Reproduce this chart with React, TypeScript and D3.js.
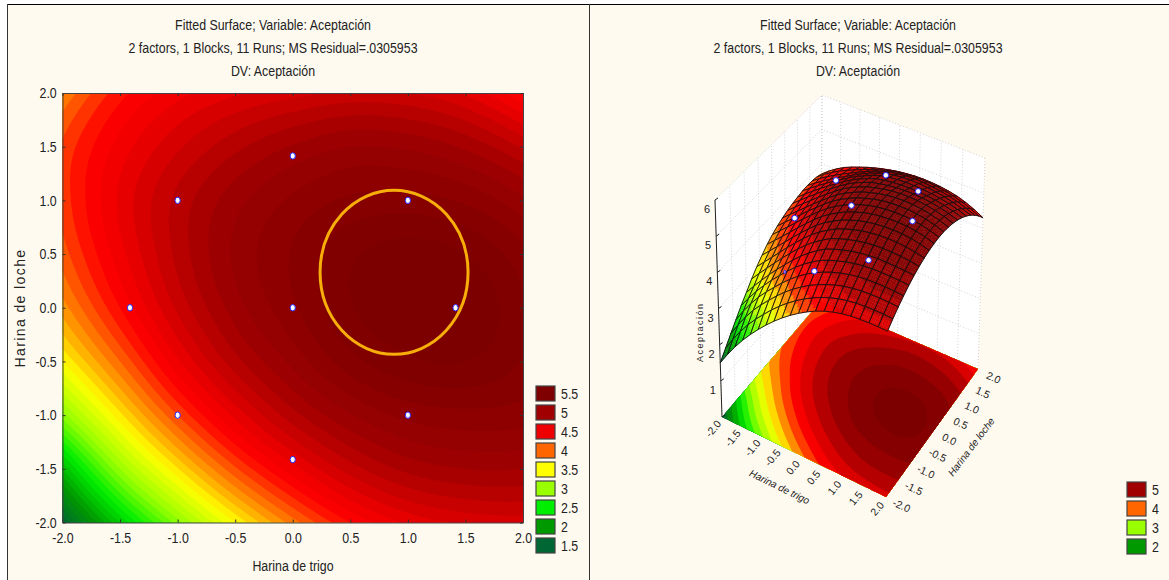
import React, { useEffect, useRef } from 'react';
import * as d3 from 'd3';

const WIDTH = 1169;
const HEIGHT = 580;
const FONT = '"Liberation Sans", Arial, sans-serif';
const NARROW = 0.825;

const titleLines = [
  'Fitted Surface; Variable: Aceptación',
  '2 factors, 1 Blocks, 11 Runs; MS Residual=.0305953',
  'DV: Aceptación',
];
const xTitle = 'Harina de trigo';
const yTitle = 'Harina de loche';
const zTitle = 'Aceptación';

const axisTicks = [-2, -1.5, -1, -0.5, 0, 0.5, 1, 1.5, 2];
const zTicks = [1, 2, 3, 4, 5, 6];

// surface, rows y=-2..2, columns x=-2..2 (step 0.5)
const surfaceRows = [
  [1.5, 2.3, 2.95, 3.5, 3.95, 4.3, 4.52, 4.62, 4.65],
  [2.2, 3.0, 3.59, 4.08, 4.46, 4.75, 4.93, 5.0, 5.0],
  [2.95, 3.57, 4.1, 4.53, 4.86, 5.09, 5.23, 5.27, 5.25],
  [3.5, 4.0, 4.48, 4.86, 5.13, 5.36, 5.48, 5.5, 5.39],
  [3.85, 4.3, 4.72, 5.05, 5.28, 5.49, 5.58, 5.57, 5.42],
  [4.05, 4.46, 4.83, 5.12, 5.31, 5.48, 5.55, 5.5, 5.33],
  [4.14, 4.52, 4.83, 5.06, 5.22, 5.32, 5.34, 5.28, 5.12],
  [4.12, 4.44, 4.68, 4.87, 5.01, 5.1, 5.08, 4.98, 4.78],
  [3.9, 4.26, 4.46, 4.58, 4.66, 4.72, 4.7, 4.58, 4.3],
];

// the mesh in the 3D panel sits lower on its left side than its colours say
const meshDropX = [1, 0.85, 0.6, 0.25, 0, 0, 0, 0, 0];
const meshDropY = [0, 0.12, 0.33, 0.4, 0.4, 0.4, 0.38, 0.33, 0.2];

const runX = [0, 1, 1, -1, -1, 0, 0, 1.414, -1.414];
const runY = [0, 1, -1, 1, -1, 1.414, -1.414, 0, 0];
const runZ = [5.25, 5.35, 5.1, 4.7, 3.7, 5.0, 4.6, 5.55, 4.2];
const runUnderMesh = [false, false, false, false, true, false, false, false, false];

const legendLevels = [5.5, 5, 4.5, 4, 3.5, 3, 2.5, 2, 1.5];
const legendColors = ['#7f0000', '#a00000', '#ee0000', '#ff6600', '#ffff00', '#99ff00', '#00ee00', '#009900', '#006633'];
const legend3dLevels = [5, 4, 3, 2];
const legend3dColors = ['#a00000', '#ff6600', '#99ff00', '#009900'];

const color = d3.scaleLinear<string>()
  .domain([1.3, 1.5, 2, 2.5, 3, 3.5, 4, 4.3, 4.5, 5, 5.5])
  .range(['#005c3a', '#006633', '#009900', '#00ee00', '#99ff00', '#ffff00', '#ff6600', '#ff0000', '#ee0000', '#a00000', '#7c0000'])
  .clamp(true);

const catmull = (a: number, b: number, c: number, d: number, t: number) =>
  b + 0.5 * t * (c - a + t * (2 * a - 5 * b + 4 * c - d + t * (3 * (b - c) + d - a)));

const pick = (arr: number[], i: number) => {
  const n = arr.length - 1;
  if (i < 0) return 3 * arr[0] - 3 * arr[1] + arr[2];
  if (i > n) return 3 * arr[n] - 3 * arr[n - 1] + arr[n - 2];
  return arr[i];
};

// smooth reading between the grid values
const surfaceAt = (x: number, y: number) => {
  const gx = (x + 2) / 0.5;
  const gy = (y + 2) / 0.5;
  const ix = Math.min(Math.floor(gx), 7);
  const iy = Math.min(Math.floor(gy), 7);
  const col = [-1, 0, 1, 2].map((k) => {
    const row = surfaceRows.map((r) => catmull(pick(r, ix - 1), pick(r, ix), pick(r, ix + 1), pick(r, ix + 2), gx - ix));
    return pick(row, iy + k);
  });
  return catmull(col[0], col[1], col[2], col[3], gy - iy);
};

const dropX = d3.scaleLinear<number>().domain(axisTicks).range(meshDropX);
const dropY = d3.scaleLinear<number>().domain(axisTicks).range(meshDropY);
const meshHeight = (x: number, y: number) => surfaceAt(x, y) - dropX(x) * dropY(y);

// 3D box corners on screen: -2,-2 / 2,-2 / 2,2 / -2,2
const floorQuad = [[722, 417], [886, 497], [978, 369], [821, 301]];
const topQuad = [[715, 200], [888, 283], [985, 158], [822, 95]];

const squareToQuad = (q: number[][]) => {
  const [[x0, y0], [x1, y1], [x2, y2], [x3, y3]] = q;
  const sx = x0 - x1 + x2 - x3;
  const sy = y0 - y1 + y2 - y3;
  const dx1 = x1 - x2;
  const dx2 = x3 - x2;
  const dy1 = y1 - y2;
  const dy2 = y3 - y2;
  const den = dx1 * dy2 - dx2 * dy1;
  const g = (sx * dy2 - dx2 * sy) / den;
  const h = (dx1 * sy - sx * dy1) / den;
  const a = x1 - x0 + g * x1;
  const b = x3 - x0 + h * x3;
  const d = y1 - y0 + g * y1;
  const e = y3 - y0 + h * y3;
  return (u: number, v: number) => {
    const w = g * u + h * v + 1;
    return [(a * u + b * v + x0) / w, (d * u + e * v + y0) / w];
  };
};

const floorMap = squareToQuad(floorQuad);
const topMap = squareToQuad(topQuad);

const project = (x: number, y: number, z: number) => {
  const u = (x + 2) / 4;
  const v = (y + 2) / 4;
  const f = floorMap(u, v);
  const t = topMap(u, v);
  const k = z / 6;
  return [f[0] + (t[0] - f[0]) * k, f[1] + (t[1] - f[1]) * k];
};

const SIZE = 161;
const field: number[] = [];
for (let j = 0; j < SIZE; j++) {
  for (let i = 0; i < SIZE; i++) {
    field.push(surfaceAt(-2 + (4 * i) / (SIZE - 1), -2 + (4 * j) / (SIZE - 1)));
  }
}

const gridToData = (c: number) => Math.max(-2, Math.min(2, -2 + (4 * (c - 0.5)) / (SIZE - 1)));

const App = () => {
  const svgRef = useRef<SVGSVGElement>(null);

  useEffect(() => {
    const svg = d3.select(svgRef.current);
    svg.selectAll('*').remove();

    svg.append('rect').attr('width', WIDTH).attr('height', HEIGHT).attr('fill', '#fff');
    svg.append('rect').attr('x', 7).attr('y', 4).attr('width', WIDTH - 7).attr('height', HEIGHT - 4).attr('fill', '#fffaf0');
    svg.append('line').attr('x1', 7).attr('x2', WIDTH).attr('y1', 4.5).attr('y2', 4.5).attr('stroke', '#000').attr('stroke-width', 1.2);
    svg.append('line').attr('x1', 7.5).attr('x2', 7.5).attr('y1', 4).attr('y2', HEIGHT).attr('stroke', '#333').attr('stroke-width', 1);
    svg.append('line').attr('x1', 589.5).attr('x2', 589.5).attr('y1', 4).attr('y2', HEIGHT).attr('stroke', '#333').attr('stroke-width', 1);

    // the original type is a condensed Arial, squeezed here
    const label = (x: number, y: number, text: any, anchor = 'middle') =>
      svg.append('text')
        .attr('transform', `translate(${x},${y}) scale(${NARROW},1)`)
        .attr('text-anchor', anchor)
        .attr('font-family', FONT)
        .attr('font-size', 15)
        .attr('fill', '#222')
        .text(text);

    const drawTitles = (cx: number) => {
      titleLines.forEach((line, i) => label(cx, 30 + i * 23, line));
    };
    drawTitles(273);
    drawTitles(858);

    const drawLegend = (x: number, y: number, levels: number[], colors: string[]) => {
      levels.forEach((level, i) => {
        svg.append('rect')
          .attr('x', x)
          .attr('y', y + i * 19)
          .attr('width', 19)
          .attr('height', 15)
          .attr('fill', colors[i])
          .attr('stroke', '#444')
          .attr('stroke-width', 1.2);
        label(x + 25, y + i * 19 + 13, level, 'start');
      });
    };
    drawLegend(536, 386, legendLevels, legendColors);
    drawLegend(1127, 482, legend3dLevels, legend3dColors);

    // left: contour map
    const xScale = d3.scaleLinear().domain([-2, 2]).range([62.5, 523]);
    const yScale = d3.scaleLinear().domain([-2, 2]).range([522.5, 93]);

    const contours2d = d3.contours().size([SIZE, SIZE]).thresholds(d3.range(1.0, 5.65, 0.1))(field);
    const path2d = d3.geoPath(d3.geoTransform({
      point(x: number, y: number) {
        this.stream.point(xScale(gridToData(x)), yScale(gridToData(y)));
      },
    }));
    svg.append('g')
      .selectAll('path')
      .data(contours2d)
      .enter()
      .append('path')
      .attr('d', path2d as any)
      .attr('fill', (d: any) => color(d.value + 0.05));

    const fmt = (d: any) => (+d).toFixed(1);
    const styleAxis = (g: any) => {
      g.attr('font-family', FONT).attr('font-size', 15);
      g.selectAll('text').attr('fill', '#222').attr('transform', `scale(${NARROW},1)`);
      g.selectAll('line').attr('stroke', '#333');
      g.select('.domain').attr('stroke', '#444');
    };
    svg.append('g').attr('transform', 'translate(0,522.5)')
      .call(d3.axisBottom(xScale).tickValues(axisTicks).tickFormat(fmt).tickSizeInner(-3).tickSizeOuter(0).tickPadding(10))
      .call(styleAxis);
    svg.append('g').attr('transform', 'translate(62.5,0)')
      .call(d3.axisLeft(yScale).tickValues(axisTicks).tickFormat(fmt).tickSizeInner(-3).tickSizeOuter(0).tickPadding(7))
      .call(styleAxis);
    svg.append('g').attr('transform', 'translate(0,93)')
      .call(d3.axisTop(xScale).tickValues(axisTicks).tickFormat(() => '').tickSizeInner(-3).tickSizeOuter(0))
      .call(styleAxis);
    svg.append('g').attr('transform', 'translate(523,0)')
      .call(d3.axisRight(yScale).tickValues(axisTicks).tickFormat(() => '').tickSizeInner(-3).tickSizeOuter(0))
      .call(styleAxis);

    label(293, 571, xTitle);
    svg.append('text')
      .attr('transform', 'translate(25,308) rotate(-90)')
      .attr('text-anchor', 'middle')
      .attr('font-family', FONT)
      .attr('font-size', 14)
      .attr('letter-spacing', 1.4)
      .attr('fill', '#222')
      .text(yTitle);

    svg.append('g')
      .selectAll('ellipse')
      .data(runX.map((x, i) => [x, runY[i]]))
      .enter()
      .append('ellipse')
      .attr('cx', (d) => xScale(d[0]))
      .attr('cy', (d) => yScale(d[1]))
      .attr('rx', 2.6)
      .attr('ry', 3.2)
      .attr('fill', '#fff')
      .attr('stroke', '#2020ff')
      .attr('stroke-width', 1);

    // hand-drawn ring around the optimum
    svg.append('ellipse')
      .attr('cx', xScale(0.88))
      .attr('cy', yScale(0.33))
      .attr('rx', 74)
      .attr('ry', 82)
      .attr('fill', 'none')
      .attr('stroke', '#f7ae0a')
      .attr('stroke-width', 3);

    // right: 3D box
    const line3d = d3.line();
    const wall = (a: number[], b: number[], c: number[], d: number[]) => 'M' + [a, b, c, d].map((p) => p.join(',')).join('L') + 'Z';
    svg.append('path').attr('d', wall(project(-2, -2, 0), project(-2, 2, 0), project(-2, 2, 6), project(-2, -2, 6))).attr('fill', '#fff');
    svg.append('path').attr('d', wall(project(-2, 2, 0), project(2, 2, 0), project(2, 2, 6), project(-2, 2, 6))).attr('fill', '#fff');

    const gridLines = svg.append('g').attr('fill', 'none').attr('stroke', '#c8c8c8').attr('stroke-width', 0.8).attr('stroke-dasharray', '1,2');
    const zGrid = [0, ...zTicks];
    zGrid.forEach((z) => {
      gridLines.append('path').attr('d', line3d([project(-2, -2, z), project(-2, 2, z), project(2, 2, z)]));
    });
    axisTicks.forEach((t) => {
      gridLines.append('path').attr('d', line3d([project(-2, t, 0), project(-2, t, 6)]));
      gridLines.append('path').attr('d', line3d([project(t, 2, 0), project(t, 2, 6)]));
    });

    const contours3d = d3.contours().size([SIZE, SIZE]).thresholds(d3.range(1.0, 5.65, 0.25))(field);
    const pathFloor = d3.geoPath(d3.geoTransform({
      point(x: number, y: number) {
        const p = project(gridToData(x), gridToData(y), 0);
        this.stream.point(p[0], p[1]);
      },
    }));
    svg.append('g')
      .selectAll('path')
      .data(contours3d)
      .enter()
      .append('path')
      .attr('d', pathFloor as any)
      .attr('fill', (d: any) => color(d.value + 0.125));

    // z axis
    const zAxis = svg.append('g').attr('fill', 'none').attr('stroke', '#222').attr('stroke-width', 1);
    zAxis.append('path').attr('d', line3d([project(-2, -2, 0), project(-2, -2, 6)]));
    zGrid.forEach((z) => {
      const p = project(-2, -2, z);
      zAxis.append('path').attr('d', line3d([p, [p[0] + 3, p[1] - 2]]));
    });
    zTicks.forEach((z) => {
      const p = project(-2, -2, z);
      svg.append('text')
        .attr('x', p[0] - 8)
        .attr('y', p[1] + 13)
        .attr('text-anchor', 'middle')
        .attr('font-family', FONT).attr('font-size', 11).attr('fill', '#222')
        .text(z);
    });
    svg.append('text')
      .attr('transform', 'translate(703,333) rotate(-90)')
      .attr('text-anchor', 'middle')
      .attr('font-family', FONT).attr('font-size', 9).attr('fill', '#222')
      .attr('textLength', 58)
      .text(zTitle);

    // surface, painted from the far corner forward
    const CELLS = 20;
    const SUB = 4;
    const cellSize = 4 / CELLS;
    const surf = svg.append('g');
    const quad = (x0: number, y0: number, x1: number, y1: number) =>
      'M' + [[x0, y0], [x1, y0], [x1, y1], [x0, y1]]
        .map(([a, b]) => project(a, b, meshHeight(a, b)).map((v) => v.toFixed(2)).join(','))
        .join('L') + 'Z';
    for (let i = 0; i < CELLS; i++) {
      const x0 = -2 + i * cellSize;
      for (let j = CELLS - 1; j >= 0; j--) {
        const y0 = -2 + j * cellSize;
        for (let a = 0; a < SUB; a++) {
          for (let b = 0; b < SUB; b++) {
            const sx = x0 + (a * cellSize) / SUB;
            const sy = y0 + (b * cellSize) / SUB;
            const v = surfaceAt(sx + cellSize / SUB / 2, sy + cellSize / SUB / 2);
            const c = color(Math.floor(v / 0.25) * 0.25 + 0.125);
            surf.append('path')
              .attr('d', quad(sx, sy, sx + cellSize / SUB, sy + cellSize / SUB))
              .attr('fill', c)
              .attr('stroke', c)
              .attr('stroke-width', 0.4);
          }
        }
        surf.append('path')
          .attr('d', quad(x0, y0, x0 + cellSize, y0 + cellSize))
          .attr('fill', 'none')
          .attr('stroke', '#111')
          .attr('stroke-width', 0.9);
      }
    }

    // design points on the 3D surface; the one under the mesh barely shows
    svg.append('g')
      .selectAll('ellipse')
      .data(runX.map((x, i) => ({ x, y: runY[i], z: runZ[i], under: runUnderMesh[i] })))
      .enter()
      .append('ellipse')
      .attr('cx', (d) => project(d.x, d.y, d.z)[0])
      .attr('cy', (d) => project(d.x, d.y, d.z)[1])
      .attr('rx', (d) => (d.under ? 1 : 2.8))
      .attr('ry', (d) => (d.under ? 1.6 : 2.8))
      .attr('fill', '#fff')
      .attr('stroke', '#2020ff')
      .attr('stroke-width', 1);

    // floor axis labels
    axisTicks.forEach((t) => {
      const p = project(t, -2, 0);
      svg.append('text')
        .attr('transform', `translate(${p[0] - 6},${p[1] + 14}) rotate(-50)`)
        .attr('text-anchor', 'middle')
        .attr('font-family', FONT).attr('font-size', 10.5).attr('fill', '#222')
        .text(t.toFixed(1));
      const q = project(2, t, 0);
      svg.append('text')
        .attr('transform', `translate(${q[0] + 14},${q[1] + 12}) rotate(25)`)
        .attr('text-anchor', 'middle')
        .attr('font-family', FONT).attr('font-size', 10.5).attr('fill', '#222')
        .text(t.toFixed(1));
    });
    svg.append('text')
      .attr('transform', 'translate(778,490) rotate(26)')
      .attr('text-anchor', 'middle')
      .attr('font-family', FONT).attr('font-size', 10).attr('font-style', 'italic').attr('fill', '#222')
      .text(xTitle);
    svg.append('text')
      .attr('transform', 'translate(974,449) rotate(-53)')
      .attr('text-anchor', 'middle')
      .attr('font-family', FONT).attr('font-size', 10).attr('font-style', 'italic').attr('fill', '#222')
      .text(yTitle);
  }, []);

  return <svg ref={svgRef} width={WIDTH} height={HEIGHT} style={{ position: 'absolute', left: 0, top: 0 }} />;
};

export default App;
